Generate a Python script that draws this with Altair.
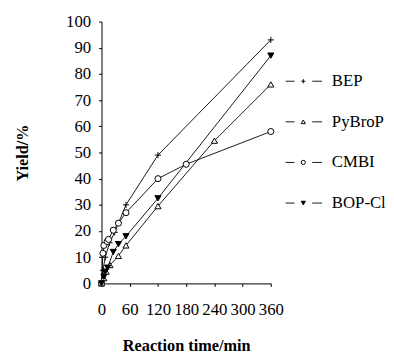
import altair as alt
import pandas as pd

series_names = ["BEP", "PyBroP", "CMBI", "BOP-Cl"]

bep_time = [0, 3, 8, 17, 28, 52, 120, 360]
bep_yield = [0, 5, 10, 15.5, 19.5, 30, 49, 93]

pybrop_time = [0, 5, 10, 18, 36, 52, 120, 240, 360]
pybrop_yield = [0, 2, 4.5, 7, 10.5, 14.5, 29.5, 54.5, 76]

cmbi_time = [0, 3, 5, 12, 15, 25, 36, 52, 120, 180, 360]
cmbi_yield = [0, 11.5, 14.5, 16, 16.8, 20.3, 23, 27, 40, 45.5, 58]

bopcl_time = [0, 5, 8, 13, 25, 36, 52, 120, 360]
bopcl_yield = [0, 2.5, 4.5, 6, 12, 15, 18, 32.5, 87]

x_ticks = [0, 60, 120, 180, 240, 300, 360]
y_ticks = [0, 10, 20, 30, 40, 50, 60, 70, 80, 90, 100]

rows = []
for name, ts, ys in [
    ("BEP", bep_time, bep_yield),
    ("PyBroP", pybrop_time, pybrop_yield),
    ("CMBI", cmbi_time, cmbi_yield),
    ("BOP-Cl", bopcl_time, bopcl_yield),
]:
    for t, v in zip(ts, ys):
        rows.append({"series": name, "time": t, "yield": v})
df = pd.DataFrame(rows)
df_leg = pd.DataFrame({"series": series_names})

FONT = "Liberation Serif"
shape_scale = alt.Scale(domain=series_names,
                        range=["M-1,0L1,0M0,-1L0,1", "triangle-up", "circle", "triangle-down"])
fill_scale = alt.Scale(domain=series_names, range=["white", "white", "white", "black"])

x = alt.X("time:Q", scale=alt.Scale(domain=[0, 360], nice=False),
          axis=alt.Axis(values=x_ticks, title="Reaction time/min", labelPadding=16,
                        titlePadding=20, labelFlush=False))
y = alt.Y("yield:Q", scale=alt.Scale(domain=[0, 100], nice=False),
          axis=alt.Axis(values=y_ticks, title="Yield/%", labelPadding=8, titlePadding=36))

lines = alt.Chart(df).mark_line(color="black", strokeWidth=0.9).encode(
    x=x, y=y, detail="series:N", order="time:Q")
points = alt.Chart(df).mark_point(filled=True, stroke="black", strokeWidth=1, size=38, opacity=1).encode(
    x=x, y=y,
    shape=alt.Shape("series:N", scale=shape_scale, legend=None),
    fill=alt.Fill("series:N", scale=fill_scale, legend=None))

main = alt.layer(lines, points).properties(width=172, height=266)

leg_y = alt.Y("series:N", sort=series_names, axis=None,
              scale=alt.Scale(type="point", range=[40, 205]))
dash1 = alt.Chart(df_leg).mark_rule(color="black", strokeWidth=0.9).encode(
    x=alt.value(5), x2=alt.value(14), y=leg_y)
dash2 = alt.Chart(df_leg).mark_rule(color="black", strokeWidth=0.9).encode(
    x=alt.value(32), x2=alt.value(42), y=leg_y)
leg_pts = alt.Chart(df_leg).mark_point(filled=True, stroke="black", strokeWidth=1, size=18, opacity=1).encode(
    x=alt.value(23), y=leg_y,
    shape=alt.Shape("series:N", scale=shape_scale, legend=None),
    fill=alt.Fill("series:N", scale=fill_scale, legend=None))
leg_txt = alt.Chart(df_leg).mark_text(align="left", baseline="middle", font=FONT,
                                      fontSize=17, color="black").encode(
    x=alt.value(52), y=leg_y, text="series:N")
legend = alt.layer(dash1, dash2, leg_pts, leg_txt).properties(width=100, height=266)

chart = alt.hconcat(main, legend, spacing=10, bounds="flush").resolve_scale(
    y="independent"
).properties(
    padding={"left": 6, "top": 2, "right": 0, "bottom": 0}
).configure_view(stroke=None).configure_axis(
    grid=False, domainColor="black", tickColor="black", tickSize=3,
    labelColor="black", labelFont=FONT, labelFontSize=17,
    titleColor="black", titleFont=FONT, titleFontSize=16.5, titleFontWeight="bold",
    domainWidth=1, tickWidth=1
)

chart.save("out.html", embed_options={"renderer": "svg", "actions": False})
